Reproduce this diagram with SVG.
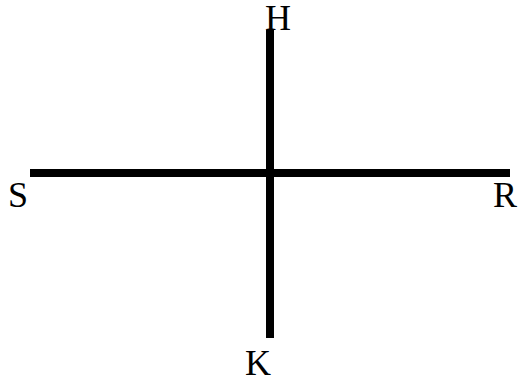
<svg xmlns="http://www.w3.org/2000/svg" width="519" height="385" viewBox="0 0 519 385">
<style>
.l{stroke:#000;stroke-width:8;fill:none}
.t{font-family:"Liberation Serif",serif;font-size:36px;fill:#000}
</style>
<rect width="519" height="385" fill="#fff"/>
<g id="connectors">
<line class="l" x1="30" y1="173" x2="510" y2="173"/>
<line class="l" x1="270" y1="30" x2="270" y2="338"/>
</g>
<g id="H"><text class="t" x="265" y="30">H</text></g>
<g id="S"><text class="t" x="8" y="207">S</text></g>
<g id="R"><text class="t" x="493" y="207">R</text></g>
<g id="K"><text class="t" x="245" y="375">K</text></g>
</svg>
